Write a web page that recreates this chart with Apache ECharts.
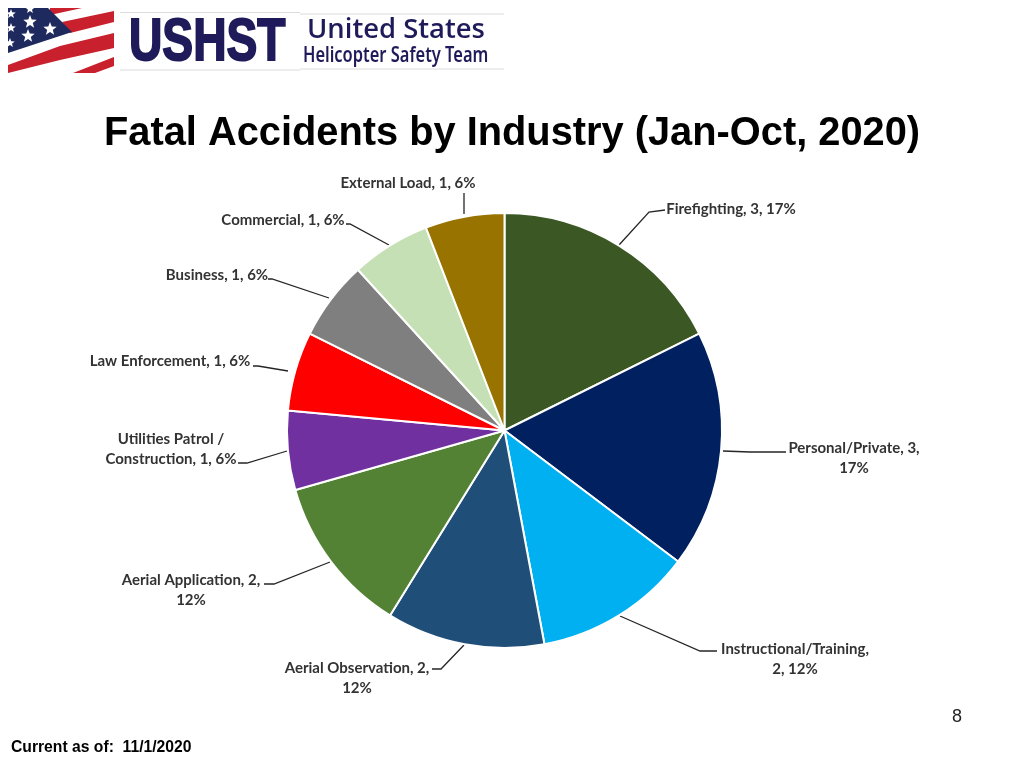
<!DOCTYPE html>
<html><head><meta charset="utf-8">
<style>html,body{margin:0;padding:0;background:#fff}#c{width:1024px;height:768px}</style>
<script src="https://cdn.jsdelivr.net/npm/echarts@6/dist/echarts.min.js"></script>
</head><body><div id="c"></div>
<script>
const categories = ["Firefighting","Personal/Private","Instructional/Training","Aerial Observation","Aerial Application","Utilities Patrol / Construction","Law Enforcement","Business","Commercial","External Load"];
const accidents = [3,3,2,2,2,1,1,1,1,1];
const labelTexts = ["Firefighting, 3, 17%","Personal/Private, 3,\n17%","Instructional/Training,\n2, 12%","Aerial Observation, 2,\n12%","Aerial Application, 2,\n12%","Utilities Patrol /\nConstruction, 1, 6%","Law Enforcement, 1, 6%","Business, 1, 6%","Commercial, 1, 6%","External Load, 1, 6%"];
const colors = ["#3a5724","#002060","#00b0f0","#1f4e79","#548235","#7030a0","#ff0000","#7f7f7f","#c5e0b4","#997300"];
const labelCenters = [[731,209],[854,458],[795,659],[357,678],[191,590],[171,449],[170,361],[217,275],[283,220],[408,183]];
const leaderLines = [
 [[619,245],[649,212],[665,210]],
 [[723,451],[750,452],[786,452]],
 [[620,616],[700,651],[717,651]],
 [[464,645],[441,669],[432,669]],
 [[330,562],[274,584],[264,584]],
 [[287,451],[247,463],[238,463]],
 [[288,371],[258,366],[253,366]],
 [[329,298],[272,279],[268,279]],
 [[389,245],[350,224],[346,224]],
 [[464,214],[464,203],[464,193]]
];
const chart = echarts.init(document.getElementById('c'), null, {renderer:'canvas', width:1024, height:768});
const navy = '#1f1b5a', red = '#c8202c';
const star = (x,y,r)=>{const pts=[];for(let i=0;i<10;i++){const a=-Math.PI/2+i*Math.PI/5,q=i%2?r*0.42:r;pts.push([x+q*Math.cos(a),y+q*Math.sin(a)]);}return {type:'polygon',shape:{points:pts},style:{fill:'#fff'}};};
const poly = (pts,fill)=>({type:'polygon', shape:{points:pts}, style:{fill:fill}});
const hline = (x1,x2,y)=>({type:'line', shape:{x1:x1,y1:y,x2:x2,y2:y}, style:{stroke:'#dcdcdc',lineWidth:1}});
chart.setOption({
  animation:false,
  backgroundColor:'#fff',
  title:{text:'Fatal Accidents by Industry (Jan-Oct, 2020)', left:507, textAlign:'center', top:109,
    textStyle:{fontFamily:'Liberation Sans',fontWeight:'bold',fontSize:39.8,color:'#000'}},
  series:[{
    type:'pie', center:[504.5,430.5], radius:217.5, startAngle:90, clockwise:true, silent:true,
    data:categories.map((n,i)=>({name:n,value:accidents[i],itemStyle:{color:colors[i]}})),
    itemStyle:{borderColor:'#fff',borderWidth:2},
    label:{show:true, formatter:p=>labelTexts[p.dataIndex], fontFamily:'Lato', fontWeight:'bold', fontSize:15, lineHeight:20, color:'#333', align:'center'},
    labelLine:{show:true, lineStyle:{color:'#262626',width:1.3}},
    labelLayout:p=>({x:labelCenters[p.dataIndex][0], y:labelCenters[p.dataIndex][1], align:'center', verticalAlign:'middle', labelLinePoints:leaderLines[p.dataIndex]})
  }],
  graphic:[
    poly([[8,8],[114,8],[114,73],[8,73]],'#fff'),
    poly([[50,8],[82,8],[50,15]],red),
    poly([[62,22],[114,11],[114,22],[70,33]],red),
    poly([[8,65],[60,46],[114,33],[114,48],[60,60],[8,73]],red),
    poly([[73,73],[114,57],[114,66],[95,73]],red),
    poly([[8,8],[48,8],[72,32],[8,53]],'#1e2a5e'),
    star(30,22,7),star(28,36,7),star(50,29,7),star(11,14,5),star(11,28,5),star(10,43,5),star(30,9,5),
    hline(120,300,12.5),hline(300,504,14),hline(120,300,70),hline(300,504,69),
    {type:'text',x:129,y:43,scaleX:0.77,style:{text:'USHST',font:'bold 60px "Liberation Sans"',fill:navy,textVerticalAlign:'middle',stroke:navy,lineWidth:2}},
    {type:'text',x:307,y:30,style:{text:'United States',font:'600 27.4px "Open Sans"',fill:navy,textVerticalAlign:'middle'}},
    {type:'text',x:303,y:56,scaleX:0.783,style:{text:'Helicopter Safety Team',font:'600 21px "Noto Sans"',fill:navy,textVerticalAlign:'middle'}},
    {type:'text',x:957,y:717,style:{text:'8',font:'18px "Liberation Sans"',fill:'#222',textAlign:'center',textVerticalAlign:'middle'}},
    {type:'text',x:11,y:748,style:{text:'Current as of:  11/1/2020',font:'bold 15.7px "Liberation Sans"',fill:'#000',textVerticalAlign:'middle'}}
  ]
});
</script></body></html>
